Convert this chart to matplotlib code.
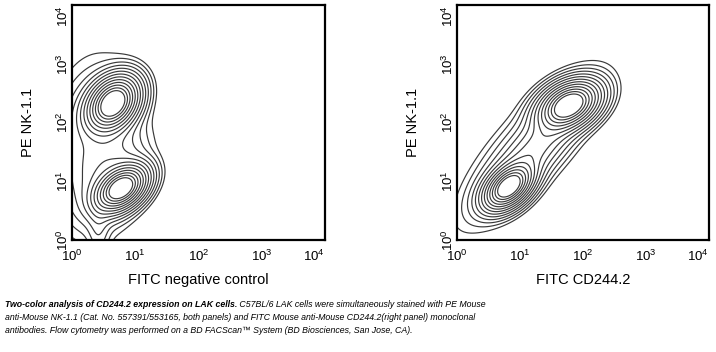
import matplotlib.pyplot as plt
import numpy as np

plt.rcParams['font.family'] = ['Liberation Sans', 'DejaVu Sans']
plt.rcParams['mathtext.fontset'] = 'custom'
plt.rcParams['mathtext.rm'] = 'Liberation Sans'
plt.rcParams['mathtext.it'] = 'Liberation Sans:italic'

# Populations in log10 units: centre x, centre y, spread x, spread y, correlation, weight
left_cx = [0.65, 0.78, 0.35, 0.60, 0.42]
left_cy = [2.33, 0.88, 1.65, 1.10, 0.20]
left_sx = [0.22, 0.22, 0.40, 0.35, 0.10]
left_sy = [0.25, 0.21, 0.80, 0.50, 0.35]
left_rho = [0.30, 0.40, 0.10, 0.30, 0.00]
left_w = [1.00, 0.95, 0.06, 0.06, 0.03]

right_cx = [1.78, 0.82, 1.25, 1.15]
right_cy = [2.30, 0.90, 1.55, 1.55]
right_sx = [0.26, 0.21, 0.42, 0.62]
right_sy = [0.22, 0.21, 0.48, 0.72]
right_rho = [0.35, 0.45, 0.80, 0.78]
right_w = [1.00, 0.95, 0.14, 0.06]

# contour radii in units of spread
level_r = np.linspace(0.85, 3.05, 13)

xlabels = ['FITC negative control', 'FITC CD244.2']
ylabel = 'PE NK-1.1'
tick_vals = [1, 10, 100, 1000, 10000]

caption_bold = 'Two-color analysis of CD244.2 expression on LAK cells.'
caption_lines = [' C57BL/6 LAK cells were simultaneously stained with PE Mouse',
                 'anti-Mouse NK-1.1 (Cat. No. 557391/553165, both panels) and FITC Mouse anti-Mouse CD244.2(right panel) monoclonal',
                 'antibodies. Flow cytometry was performed on a BD FACScan\u2122 System (BD Biosciences, San Jose, CA).']


def density(cx, cy, sx, sy, rho, w, gx, gy):
    z = np.zeros_like(gx)
    for i in range(len(cx)):
        dx = (gx - cx[i]) / sx[i]
        dy = (gy - cy[i]) / sy[i]
        q = (dx**2 - 2 * rho[i] * dx * dy + dy**2) / (1 - rho[i]**2)
        z += w[i] * np.exp(-0.5 * q)
    return z


g = np.linspace(0, 4, 400)
gx, gy = np.meshgrid(g, g)

fig = plt.figure(figsize=(7.16, 3.52), dpi=100)
axes = [fig.add_axes([72/716, 1 - 240/352, 253/716, 235/352]),
        fig.add_axes([457/716, 1 - 240/352, 252/716, 235/352])]

panels = [(left_cx, left_cy, left_sx, left_sy, left_rho, left_w),
          (right_cx, right_cy, right_sx, right_sy, right_rho, right_w)]

for ax, p, xl in zip(axes, panels, xlabels):
    z = density(*p, gx, gy)
    levels = np.sort(np.exp(-0.5 * level_r**2)) * z.max()
    ax.contour(10**gx, 10**gy, z, levels=levels, colors='#3a3a3a', linewidths=0.85)
    ax.set_xscale('log')
    ax.set_yscale('log')
    ax.set_xlim(1, 1e4)
    ax.set_ylim(1, 1e4)
    ax.set_xticks(tick_vals)
    ax.set_yticks(tick_vals)
    ax.minorticks_off()
    ax.tick_params(length=0, labelsize=9.5)
    ax.tick_params(axis='y', pad=1)
    ax.tick_params(axis='x', pad=6)
    ylabs = ax.get_yticklabels()
    for lab in ylabs:
        lab.set_rotation(90)
        lab.set_va('center')
    ylabs[-1].set_va('top')
    ax.get_xticklabels()[-1].set_ha('right')
    for s in ax.spines.values():
        s.set_linewidth(1.6)
    ax.set_xlabel(xl, fontsize=10.5, labelpad=7)
    ax.set_ylabel(ylabel, fontsize=10.5, labelpad=15)

cap_size = 6.3
y0 = 1 - 300/352
t = fig.text(5/716, y0, caption_bold, fontsize=cap_size, style='italic',
             weight='bold', va='top')
fig.canvas.draw()
bb = t.get_window_extent()
fig.text(bb.x1 / 716, y0, caption_lines[0], fontsize=cap_size,
         style='italic', va='top')
for i, line in enumerate(caption_lines[1:]):
    fig.text(5/716, y0 - (i + 1) * 13/352, line, fontsize=cap_size,
             style='italic', va='top')

fig.savefig('out.png', dpi=100)
